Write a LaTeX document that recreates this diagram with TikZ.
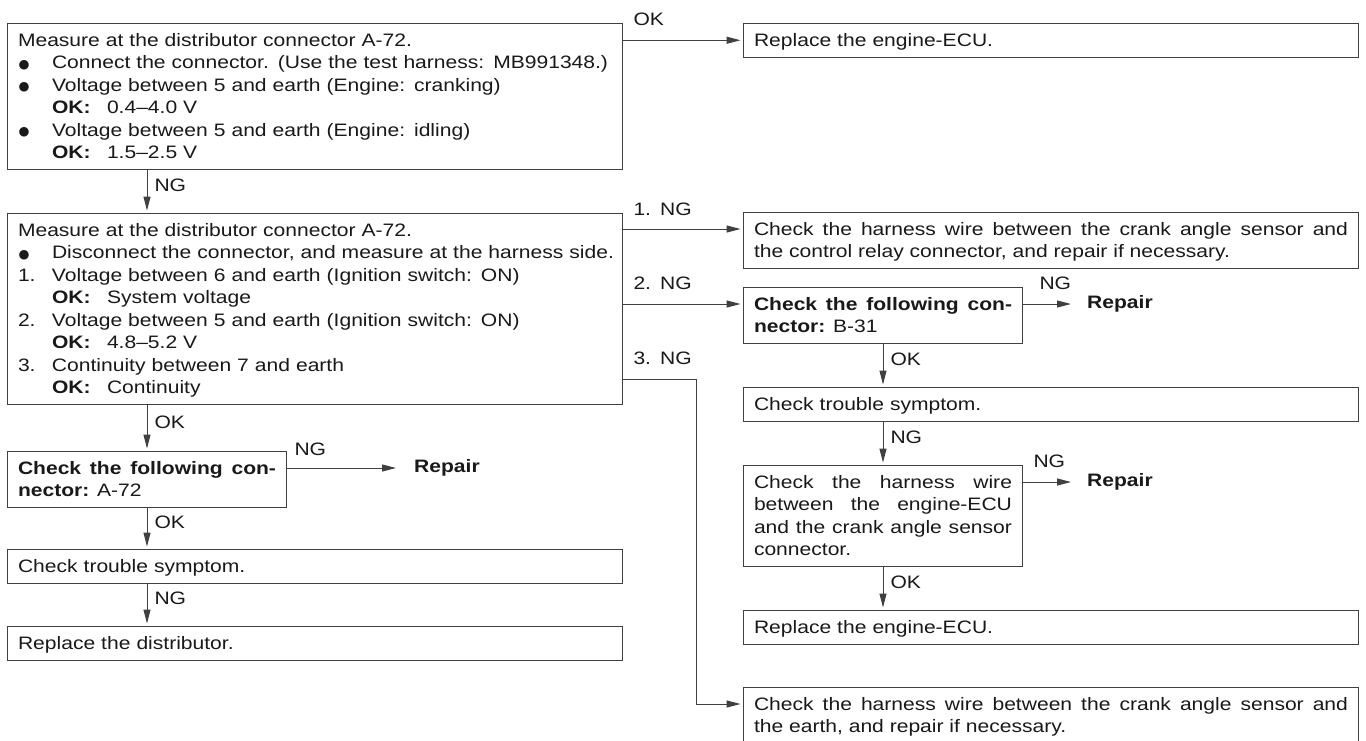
\documentclass[tikz,border=0pt]{standalone}
\usepackage{fontspec}
\setmainfont{Liberation Sans}[FakeStretch=1.17]
\newfontfamily\symfont{DejaVu Sans}
\usetikzlibrary{arrows.meta}
\hyphenpenalty=10000
\exhyphenpenalty=10000
\tolerance=10000
\newcommand\mystrut{\rule[-5.1pt]{0pt}{22.5pt}}
\newcommand\Ln[1]{\mystrut\mbox{#1}}
\newcommand\Bul{\makebox[34pt][l]{\hspace*{0.5pt}\raisebox{0.6pt}{\symfont\fontsize{12.5pt}{12pt}\selectfont ●}}}
\newcommand\Num[1]{\makebox[34pt][l]{#1}}
\newcommand\OKv[1]{\hspace*{34pt}\makebox[55pt][l]{\textbf{OK:}}#1}
\begin{document}
\begin{tikzpicture}[x=1pt,y=-1pt,
  cbox/.style={draw=black!75, line width=1pt, anchor=north west,
    inner xsep=10.5pt, inner ysep=5.5pt, text width=#1, align=left,
    font=\fontsize{18pt}{22.5pt}\selectfont, text=black!90},
  cbox/.default=594pt,
  jbox/.style={cbox=#1, align=justify},
  jbox/.default=594pt,
  lbl/.style={inner sep=0pt, font=\fontsize{18pt}{22.5pt}\selectfont, text=black!90},
  rep/.style={lbl, anchor=west, font=\fontsize{18pt}{22.5pt}\selectfont\bfseries},
  arr/.style={draw=black!75, line width=1pt, -{Triangle[length=14pt,width=7pt]}, shorten >=2.5pt},
  hl/.style={lbl, anchor=west, xshift=10pt, yshift=21pt},
  vl/.style={lbl, midway, anchor=west, xshift=7pt, yshift=6pt}
]
\fill[white] (0,0) rectangle (1366,740);
\useasboundingbox (0,0) rectangle (1366,740);

% ---------- left column ----------
\node[cbox] (b1) at (7,23) {%
\Ln{Measure at the distributor connector A-72.}\\
\Ln{\Bul Connect the connector. (Use the test harness: MB991348.)}\\
\Ln{\Bul Voltage between 5 and earth (Engine: cranking)}\\
\Ln{\OKv{0.4–4.0 V}}\\
\Ln{\Bul Voltage between 5 and earth (Engine: idling)}\\
\Ln{\OKv{1.5–2.5 V}}};

\node[cbox] (b2) at (7,213) {%
\Ln{Measure at the distributor connector A-72.}\\
\Ln{\Bul Disconnect the connector, and measure at the harness side.}\\
\Ln{\Num{1.}Voltage between 6 and earth (Ignition switch: ON)}\\
\Ln{\OKv{System voltage}}\\
\Ln{\Num{2.}Voltage between 5 and earth (Ignition switch: ON)}\\
\Ln{\OKv{4.8–5.2 V}}\\
\Ln{\Num{3.}Continuity between 7 and earth}\\
\Ln{\OKv{Continuity}}};

\node[jbox=258pt] (a72) at (7,451) {\mystrut\textbf{Check the following con-}\linebreak\textbf{nector:} A-72\mystrut};
\node[cbox] (symL) at (7,549) {\Ln{Check trouble symptom.}};
\node[cbox] (repD) at (7,626) {\Ln{Replace the distributor.}};

% ---------- right column ----------
\node[cbox] (r1) at (743,23) {\Ln{Replace the engine-ECU.}};
\node[jbox] (r2) at (743,212) {\mystrut Check the harness wire between the crank angle sensor and\linebreak the control relay connector, and repair if necessary.\mystrut};
\node[jbox=258pt] (b31) at (743,287) {\mystrut\textbf{Check the following con-}\linebreak\textbf{nector:} B-31\mystrut};
\node[cbox] (symR) at (743,387) {\Ln{Check trouble symptom.}};
\node[jbox=258pt] (ecu) at (743,465) {\mystrut Check the harness wire\linebreak between the engine-ECU\linebreak and the crank angle sensor\linebreak connector.\mystrut};
\node[cbox] (repE) at (743,610) {\Ln{Replace the engine-ECU.}};
\node[jbox] (bot) at (743,687) {\mystrut Check the harness wire between the crank angle sensor and\linebreak the earth, and repair if necessary.\mystrut};

% Repair targets
\node[rep] (repA) at ([xshift=127pt,yshift=-17pt]a72.north east) {Repair};
\node[rep] (repB) at ([xshift=64pt,yshift=-17pt]b31.north east) {Repair};
\node[rep] (repC) at ([xshift=64pt,yshift=-17pt]ecu.north east) {Repair};

% column axes and entry points
\coordinate (cl) at (147,0);
\coordinate (cr) at (883,0);
\coordinate (r2in) at ([yshift=-17pt]r2.north west);
\coordinate (b31in) at ([yshift=-17pt]b31.north west);
\coordinate (botin) at ([yshift=-17pt]bot.north west);
\coordinate (k3) at (696,379);

% ---------- connectors ----------
\draw[arr] (b1.east |- r1.west) node[hl] (lOK0) {OK} -- (r1.west);
\draw[arr] (b1.south -| cl) -- (b2.north -| cl) node[vl] (lNG0) {NG};

\draw[arr] (b2.east |- r2in) node[hl, yshift=-1pt] (l1NG) {1.\hspace{9pt}NG} -- (r2in);
\draw[arr] (b2.east |- b31in) node[hl] (l2NG) {2.\hspace{9pt}NG} -- (b31in);
\draw[arr] (b2.east |- k3) node[hl] (l3NG) {3.\hspace{9pt}NG} -- (k3) -- (k3 |- botin) -- (botin);

\draw[arr] (b2.south -| cl) -- (a72.north -| cl) node[vl] (lOK1) {OK};
\draw[arr, shorten >=18pt] (a72.east |- repA.west) node[hl, xshift=-3pt, yshift=-2pt] (lNGa) {NG} -- (repA.west);
\draw[arr] (a72.south -| cl) -- (symL.north -| cl) node[vl] (lOK2) {OK};
\draw[arr] (symL.south -| cl) -- (repD.north -| cl) node[vl] (lNG1) {NG};

\draw[arr, shorten >=16pt] (b31.east |- repB.west) node[hl, xshift=6pt] (lNGb) {NG} -- (repB.west);
\draw[arr] (b31.south -| cr) -- (symR.north -| cr) node[vl] (lOK3) {OK};
\draw[arr] (symR.south -| cr) -- (ecu.north -| cr) node[vl] (lNG2) {NG};
\draw[arr, shorten >=16pt] (ecu.east |- repC.west) node[hl] (lNGc) {NG} -- (repC.west);
\draw[arr] (ecu.south -| cr) -- (repE.north -| cr) node[vl] (lOK4) {OK};
\end{tikzpicture}
\end{document}
